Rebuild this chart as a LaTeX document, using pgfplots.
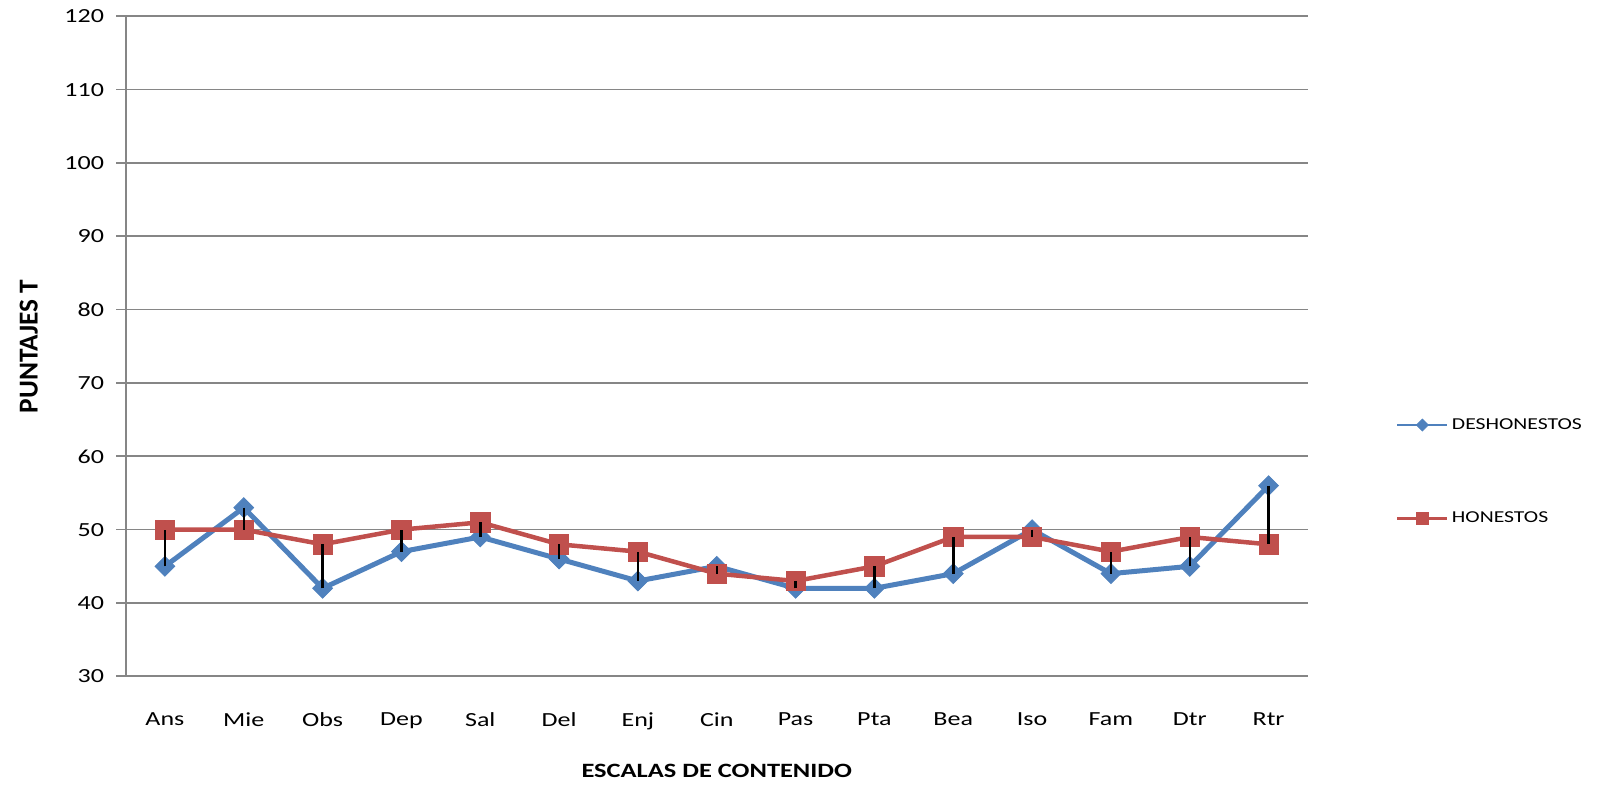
\documentclass[border=0pt]{standalone}
\usepackage{pgfplots}
\pgfplotsset{compat=1.18}
\usepackage{pgfplotstable}
\usepackage{fontspec}
\setmainfont{Carlito}[FakeStretch=1.3]
\newfontfamily\rotfont{Carlito}

\definecolor{desh}{HTML}{4F81BD}
\definecolor{hon}{HTML}{C0504D}
\definecolor{ejes}{HTML}{868686}

% puntajes T por escala
\pgfplotstableread{
x des hon
0 45 50
1 53 50
2 42 48
3 47 50
4 49 51
5 46 48
6 43 47
7 45 44
8 42 43
9 42 45
10 44 49
11 50 49
12 44 47
13 45 49
14 56 48
}\datos

\begin{document}
\begin{tikzpicture}
\begin{axis}[
    name=ax,
    set layers,
    scale only axis,
    width=709.5pt, height=396pt,
    xmin=-0.5, xmax=14.5,
    ymin=30, ymax=120,
    xtick={0,...,14},
    xticklabels={Ans,Mie,Obs,Dep,Sal,Del,Enj,Cin,Pas,Pta,Bea,Iso,Fam,Dtr,Rtr},
    ytick={30,40,...,120},
    axis lines=left,
    axis line style={-, ejes, line width=1.2pt},
    ymajorgrids=true,
    grid style={ejes, line width=1pt},
    tick align=outside,
    major tick length=5.4pt,
    xtick style={draw=none},
    ytick style={ejes, line width=1pt},
    /pgf/number format/assume math mode=true,
    ticklabel style={font=\fontsize{12}{14}\selectfont},
    xticklabel style={yshift=-13pt},
    yticklabel style={xshift=-4pt},
    xlabel={\bfseries ESCALAS DE CONTENIDO},
    ylabel={\rotfont\bfseries PUNTAJES T},
    every axis x label/.style={at={(axis description cs:0.5,0)}, yshift=-57pt, anchor=center, font=\fontsize{12.2}{14}\selectfont},
    every axis y label/.style={at={(axis description cs:0,0.5)}, xshift=-58pt, anchor=center, rotate=90, font=\fontsize{16.4}{18}\selectfont},
    legend style={at={(1.07,0.31)}, anchor=west, draw=none, fill=none,
        font=\fontsize{10}{12}\selectfont, row sep=44pt},
    legend cell align=left,
    legend image code/.code={
        \draw[mark repeat=2, mark phase=2, line width=1.5pt, every mark/.append style={scale=0.6}]
        plot coordinates {(0pt,0pt) (15pt,0pt) (30pt,0pt)};
    },
]
\addplot[desh, line width=3pt, mark=square*, mark size=4.2pt,
    mark options={rotate=45, line width=0.5pt}] table[x=x, y=des] {\datos};
\addplot[hon, line width=2.7pt, mark=square*, mark size=5.8pt,
    mark options={line width=0.5pt}] table[x=x, y=hon] {\datos};
% lineas max-min sobre los marcadores
\addplot[black, line width=1.5pt, forget plot, unbounded coords=jump,
    on layer=axis foreground] coordinates {
    (0,45) (0,50) (0,nan)
    (1,53) (1,50) (1,nan)
    (2,42) (2,48) (2,nan)
    (3,47) (3,50) (3,nan)
    (4,49) (4,51) (4,nan)
    (5,46) (5,48) (5,nan)
    (6,43) (6,47) (6,nan)
    (7,45) (7,44) (7,nan)
    (8,42) (8,43) (8,nan)
    (9,42) (9,45) (9,nan)
    (10,44) (10,49) (10,nan)
    (11,50) (11,49) (11,nan)
    (12,44) (12,47) (12,nan)
    (13,45) (13,49) (13,nan)
    (14,56) (14,48)
};
\legend{DESHONESTOS, HONESTOS}
\end{axis}
\pgfresetboundingbox
\path ([xshift=-75.3pt, yshift=-65.7pt]ax.south west) rectangle ([xshift=175.2pt, yshift=9.8pt]ax.north east);
\end{tikzpicture}
\end{document}
